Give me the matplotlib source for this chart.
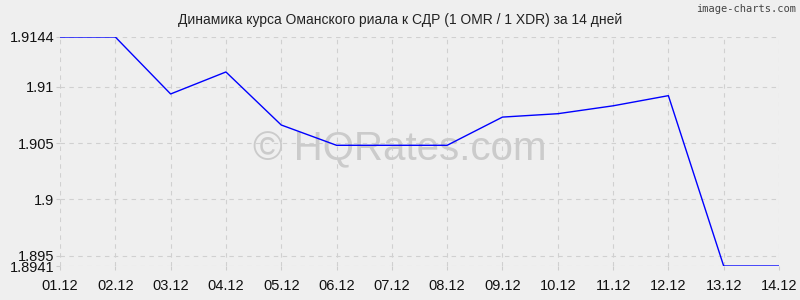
import matplotlib
matplotlib.use("Agg")
import matplotlib.pyplot as plt

dates = ["01.12", "02.12", "03.12", "04.12", "05.12", "06.12", "07.12",
         "08.12", "09.12", "10.12", "11.12", "12.12", "13.12", "14.12"]
rates = [1.9144, 1.9144, 1.90935, 1.9113, 1.9066, 1.9048, 1.9048,
         1.9048, 1.9073, 1.9076, 1.9083, 1.9092, 1.8941, 1.8941]
yticks = [1.8941, 1.895, 1.9, 1.905, 1.91, 1.9144]
ytick_labels = ["1.8941", "1.895", "1.9", "1.905", "1.91", "1.9144"]
title = "Динамика курса Оманского риала к СДР (1 OMR / 1 XDR) за 14 дней"

plt.rcParams['font.family'] = ['Liberation Sans', 'DejaVu Sans']
bg = "#efefef"
fig = plt.figure(figsize=(8, 3), dpi=100, facecolor=bg)
ax = fig.add_axes([0.075, 0.1133, 0.89875, 0.7634], facecolor=bg)

x = list(range(len(dates)))
ax.plot(x, rates, color="#0000ff", lw=1.0, zorder=3)

ax.set_xlim(0, len(dates) - 1)
ax.set_ylim(min(rates), max(rates))
ax.set_xticks(x)
ax.set_xticklabels(dates)
ax.set_yticks(yticks)
ax.set_yticklabels(ytick_labels)
ax.grid(True, color="#d0d0d0", linestyle=(0, (4, 4)), lw=0.8)
for s in ax.spines.values():
    s.set_visible(False)
ax.tick_params(axis="both", length=3, color="#cccccc", labelsize=10.5, labelcolor="#111111")
ax.tick_params(axis="x", pad=6)
ax.tick_params(axis="y", pad=1)

fig.text(0.5, 0.933, title, ha="center", va="center", fontsize=10, color="#222222")
fig.text(0.995, 0.985, "image-charts.com", ha="right", va="top", fontsize=7.5,
         color="#444444", family=["DejaVu Sans Mono"])
ax.text(0.4725, 0.51, "© HQRates.com", transform=ax.transAxes, ha="center", va="center",
        fontsize=29, color="#cbcbcb", zorder=2)

fig.savefig("out.png", dpi=100, facecolor=bg)
